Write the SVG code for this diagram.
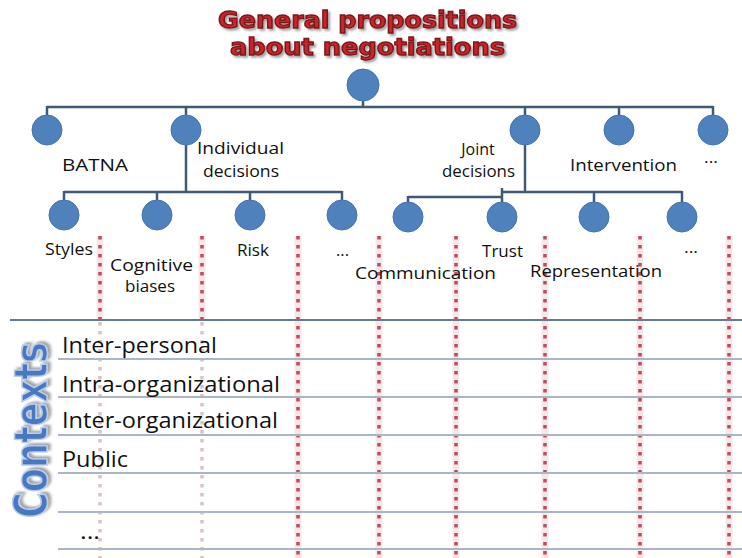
<svg xmlns="http://www.w3.org/2000/svg" width="742" height="558" viewBox="0 0 742 558">
<defs>
<filter id="shadow" x="-10%" y="-30%" width="120%" height="160%">
<feDropShadow dx="2" dy="2" stdDeviation="1" flood-color="#555555" flood-opacity="0.55"/>
</filter>
<style>
.bg{fill:#ffffff}
.conn{stroke:#3f5a78;stroke-width:2.5;fill:none;stroke-linecap:butt}
.node{fill:#4f81bd;stroke:#4474ad;stroke-width:1}
.lbl{font-family:"Open Sans","DejaVu Sans",sans-serif;font-size:16px;fill:#111111}
.ctx{font-family:"Open Sans","DejaVu Sans",sans-serif;font-size:21px;fill:#111111}
.title{font-family:"DejaVu Sans",sans-serif;font-weight:bold;font-size:21px;fill:#c4282e;stroke:#7e1216;stroke-width:1.2;filter:url(#shadow)}
.vert{font-family:"DejaVu Sans",sans-serif;font-weight:bold;font-size:32px;fill:#4a78c2;stroke:#b9cdec;stroke-width:1.2;filter:url(#shadow)}
.halo{stroke:#f6dde1;stroke-width:7;opacity:0.7}
.dot{stroke:#b4505f;stroke-width:3.5;stroke-dasharray:3.5 5.5}
.dotfade{stroke:#d9c3c8;stroke-width:3.5;stroke-dasharray:3.5 5.5}
.main{stroke:#5f7c9b;stroke-width:2}
.row{stroke:#a9b5c9;stroke-width:2}
</style>
</defs>
<rect class="bg" x="0" y="0" width="742" height="558"/>

<g id="title">
<text class="title" transform="translate(367.5,0) scale(1,1.06)" text-anchor="middle"><tspan x="0" y="26.4" textLength="299" lengthAdjust="spacingAndGlyphs">General propositions</tspan><tspan x="0" y="51.5" textLength="275" lengthAdjust="spacingAndGlyphs">about negotiations</tspan></text>
</g>

<g id="table">
<line class="halo" x1="100" y1="236" x2="100" y2="320"/>
<line class="dot" x1="100" y1="236" x2="100" y2="320"/>
<line class="dotfade" x1="100" y1="322" x2="100" y2="558"/>
<line class="halo" x1="202" y1="236" x2="202" y2="320"/>
<line class="dot" x1="202" y1="236" x2="202" y2="320"/>
<line class="dotfade" x1="202" y1="322" x2="202" y2="558"/>
<line class="halo" x1="298" y1="236" x2="298" y2="558"/>
<line class="dot" x1="298" y1="236" x2="298" y2="558"/>
<line class="halo" x1="379" y1="236" x2="379" y2="558"/>
<line class="dot" x1="379" y1="236" x2="379" y2="558"/>
<line class="halo" x1="456" y1="236" x2="456" y2="558"/>
<line class="dot" x1="456" y1="236" x2="456" y2="558"/>
<line class="halo" x1="545" y1="236" x2="545" y2="558"/>
<line class="dot" x1="545" y1="236" x2="545" y2="558"/>
<line class="halo" x1="640" y1="236" x2="640" y2="558"/>
<line class="dot" x1="640" y1="236" x2="640" y2="558"/>
<line class="halo" x1="729" y1="236" x2="729" y2="558"/>
<line class="dot" x1="729" y1="236" x2="729" y2="558"/>
<line class="main" x1="10" y1="320" x2="742" y2="320"/>
<line class="row" x1="58" y1="359" x2="742" y2="359"/>
<line class="row" x1="58" y1="397" x2="742" y2="397"/>
<line class="row" x1="58" y1="435" x2="742" y2="435"/>
<line class="row" x1="58" y1="473" x2="742" y2="473"/>
<line class="row" x1="58" y1="512" x2="742" y2="512"/>
<line class="row" x1="58" y1="549" x2="742" y2="549"/>
</g>

<g id="connectors">
<line class="conn" x1="363" y1="101" x2="363" y2="107"/>
<line class="conn" x1="47" y1="107" x2="713" y2="107"/>
<line class="conn" x1="47" y1="106" x2="47" y2="115"/>
<line class="conn" x1="186" y1="106" x2="186" y2="115"/>
<line class="conn" x1="525" y1="106" x2="525" y2="115"/>
<line class="conn" x1="619" y1="106" x2="619" y2="115"/>
<line class="conn" x1="713" y1="106" x2="713" y2="115"/>
<line class="conn" x1="186" y1="145" x2="186" y2="192"/>
<line class="conn" x1="64" y1="192" x2="342" y2="192"/>
<line class="conn" x1="64" y1="191" x2="64" y2="200"/>
<line class="conn" x1="157" y1="191" x2="157" y2="200"/>
<line class="conn" x1="250" y1="191" x2="250" y2="200"/>
<line class="conn" x1="342" y1="191" x2="342" y2="200"/>
<line class="conn" x1="525" y1="145" x2="525" y2="192"/>
<line class="conn" x1="502" y1="192" x2="682" y2="192"/>
<line class="conn" x1="408" y1="197" x2="503" y2="197"/>
<line class="conn" x1="502" y1="188" x2="502" y2="203"/>
<line class="conn" x1="408" y1="196" x2="408" y2="203"/>
<line class="conn" x1="594" y1="191" x2="594" y2="203"/>
<line class="conn" x1="682" y1="191" x2="682" y2="203"/>
</g>

<g id="root"><circle class="node" cx="363" cy="85" r="16"/></g>
<g id="batna"><circle class="node" cx="47" cy="130" r="15"/><text class="lbl" x="62" y="171" textLength="66" lengthAdjust="spacingAndGlyphs">BATNA</text></g>
<g id="individual"><circle class="node" cx="186" cy="130" r="15"/><text class="lbl" x="197" y="154" textLength="87" lengthAdjust="spacingAndGlyphs">Individual</text><text class="lbl" x="203" y="177" textLength="76" lengthAdjust="spacingAndGlyphs">decisions</text></g>
<g id="joint"><circle class="node" cx="525" cy="130" r="15"/><text class="lbl" x="478" y="155" text-anchor="middle">Joint</text><text class="lbl" x="442" y="177" textLength="73" lengthAdjust="spacingAndGlyphs">decisions</text></g>
<g id="intervention"><circle class="node" cx="619" cy="130" r="15"/><text class="lbl" x="570" y="171" textLength="107" lengthAdjust="spacingAndGlyphs">Intervention</text></g>
<g id="more1"><circle class="node" cx="713" cy="130" r="15"/><text class="lbl" x="704" y="163" textLength="14" lengthAdjust="spacingAndGlyphs">...</text></g>

<g id="styles"><circle class="node" cx="64" cy="215" r="15"/><text class="lbl" x="45" y="255" textLength="48" lengthAdjust="spacingAndGlyphs">Styles</text></g>
<g id="cognitive"><circle class="node" cx="157" cy="215" r="15"/><text class="lbl" x="110" y="271" textLength="83" lengthAdjust="spacingAndGlyphs">Cognitive</text><text class="lbl" x="125" y="292" textLength="50" lengthAdjust="spacingAndGlyphs">biases</text></g>
<g id="risk"><circle class="node" cx="250" cy="215" r="15"/><text class="lbl" x="237" y="256" textLength="32" lengthAdjust="spacingAndGlyphs">Risk</text></g>
<g id="more2"><circle class="node" cx="342" cy="215" r="15"/><text class="lbl" x="336" y="256" textLength="13" lengthAdjust="spacingAndGlyphs">...</text></g>
<g id="communication"><circle class="node" cx="408" cy="217" r="15"/><text class="lbl" x="355" y="279" textLength="141" lengthAdjust="spacingAndGlyphs">Communication</text></g>
<g id="trust"><circle class="node" cx="502" cy="217" r="15"/><text class="lbl" x="482" y="257" textLength="41" lengthAdjust="spacingAndGlyphs">Trust</text></g>
<g id="representation"><circle class="node" cx="594" cy="217" r="15"/><text class="lbl" x="530" y="277" textLength="132" lengthAdjust="spacingAndGlyphs">Representation</text></g>
<g id="more3"><circle class="node" cx="682" cy="217" r="15"/><text class="lbl" x="684" y="253" textLength="14" lengthAdjust="spacingAndGlyphs">...</text></g>

<g id="contexts">
<text class="vert" transform="translate(47,430) rotate(-90) scale(1,1.45)" text-anchor="middle" textLength="176" lengthAdjust="spacingAndGlyphs">Contexts</text>
<text class="ctx" x="62" y="353" textLength="155" lengthAdjust="spacingAndGlyphs">Inter-personal</text>
<text class="ctx" x="62" y="392" textLength="218" lengthAdjust="spacingAndGlyphs">Intra-organizational</text>
<text class="ctx" x="62" y="428" textLength="216" lengthAdjust="spacingAndGlyphs">Inter-organizational</text>
<text class="ctx" x="62" y="467" textLength="66" lengthAdjust="spacingAndGlyphs">Public</text>
<text class="ctx" x="80" y="539" textLength="20" lengthAdjust="spacingAndGlyphs">...</text>
</g>
</svg>
